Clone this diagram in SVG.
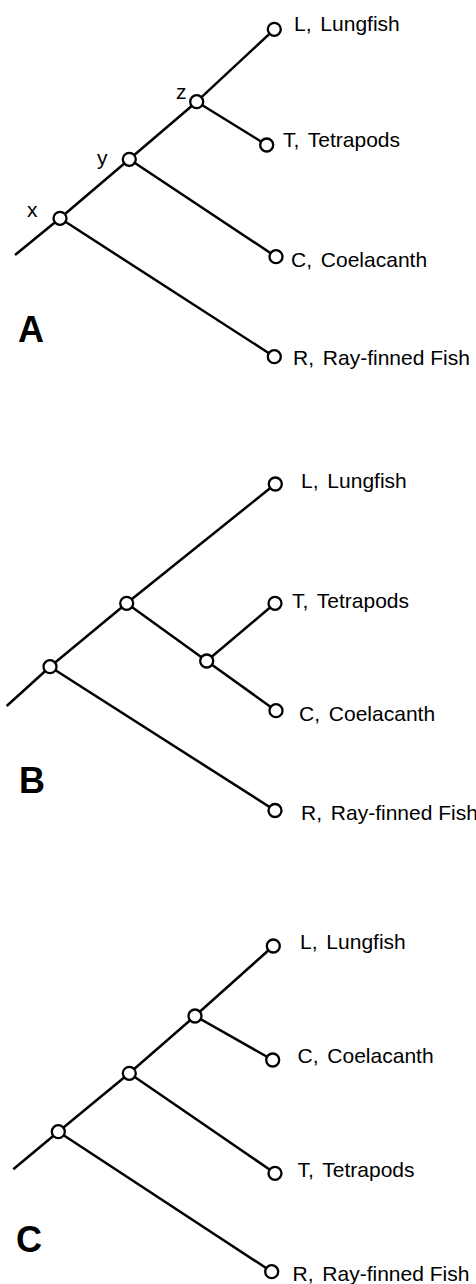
<svg xmlns="http://www.w3.org/2000/svg" width="476" height="1284" viewBox="0 0 476 1284">
<style>
.edge{stroke:#000;stroke-width:2.5;fill:none}
.node{fill:#fff;stroke:#000;stroke-width:2.3}
.lbl{font-family:"Liberation Sans",Arial,Helvetica,sans-serif;font-size:21px;fill:#000}
.panel{font-family:"Liberation Sans",Arial,Helvetica,sans-serif;font-size:36px;font-weight:bold;fill:#000}
</style>
<rect width="476" height="1284" fill="#fff"/>
<g id="connectors">
  <!-- Panel A -->
  <line class="edge" x1="15" y1="255" x2="60" y2="218.3"/>
  <line class="edge" x1="60" y1="218.3" x2="129.3" y2="159.3"/>
  <line class="edge" x1="129.3" y1="159.3" x2="196.7" y2="101.7"/>
  <line class="edge" x1="196.7" y1="101.7" x2="274.3" y2="29.3"/>
  <line class="edge" x1="196.7" y1="101.7" x2="266.7" y2="145"/>
  <line class="edge" x1="129.3" y1="159.3" x2="276" y2="256.7"/>
  <line class="edge" x1="60" y1="218.3" x2="274.3" y2="356.7"/>
  <!-- Panel B -->
  <line class="edge" x1="6.7" y1="706" x2="50" y2="666.7"/>
  <line class="edge" x1="50" y1="666.7" x2="126.7" y2="603.3"/>
  <line class="edge" x1="126.7" y1="603.3" x2="275.3" y2="484"/>
  <line class="edge" x1="126.7" y1="603.3" x2="206.7" y2="661"/>
  <line class="edge" x1="206.7" y1="661" x2="275" y2="603.3"/>
  <line class="edge" x1="206.7" y1="661" x2="276" y2="710.7"/>
  <line class="edge" x1="50" y1="666.7" x2="275" y2="810.5"/>
  <!-- Panel C -->
  <line class="edge" x1="13.3" y1="1169.3" x2="58.3" y2="1131.7"/>
  <line class="edge" x1="58.3" y1="1131.7" x2="129.3" y2="1073.3"/>
  <line class="edge" x1="129.3" y1="1073.3" x2="195" y2="1016"/>
  <line class="edge" x1="195" y1="1016" x2="273.3" y2="946"/>
  <line class="edge" x1="195" y1="1016" x2="272.7" y2="1060"/>
  <line class="edge" x1="129.3" y1="1073.3" x2="275" y2="1173.3"/>
  <line class="edge" x1="58.3" y1="1131.7" x2="271.7" y2="1271.7"/>
</g>
<!-- Panel A nodes -->
<g id="A-x"><circle class="node" cx="60" cy="218.3" r="6.5"/><text class="lbl" x="27" y="217">x</text></g>
<g id="A-y"><circle class="node" cx="129.3" cy="159.3" r="6.5"/><text class="lbl" x="97" y="165">y</text></g>
<g id="A-z"><circle class="node" cx="196.7" cy="101.7" r="6.5"/><text class="lbl" x="176" y="99">z</text></g>
<g id="A-L"><circle class="node" cx="274.3" cy="29.3" r="6.5"/><text class="lbl" x="294" y="31">L, <tspan dx="3">Lungfish</tspan></text></g>
<g id="A-T"><circle class="node" cx="266.7" cy="145" r="6.5"/><text class="lbl" x="283" y="147">T, <tspan dx="3">Tetrapods</tspan></text></g>
<g id="A-C"><circle class="node" cx="276" cy="256.7" r="6.5"/><text class="lbl" x="291" y="266.5">C, <tspan dx="3">Coelacanth</tspan></text></g>
<g id="A-R"><circle class="node" cx="274.3" cy="356.7" r="6.5"/><text class="lbl" x="293" y="365">R, <tspan dx="3">Ray-finned Fish</tspan></text></g>
<text class="panel" x="18" y="342">A</text>
<!-- Panel B nodes -->
<g id="B-root"><circle class="node" cx="50" cy="666.7" r="6.5"/></g>
<g id="B-upper"><circle class="node" cx="126.7" cy="603.3" r="6.5"/></g>
<g id="B-lower"><circle class="node" cx="206.7" cy="661" r="6.5"/></g>
<g id="B-L"><circle class="node" cx="275.3" cy="484" r="6.5"/><text class="lbl" x="301" y="487.5">L, <tspan dx="3">Lungfish</tspan></text></g>
<g id="B-T"><circle class="node" cx="275" cy="603.3" r="6.5"/><text class="lbl" x="292" y="608.3">T, <tspan dx="3">Tetrapods</tspan></text></g>
<g id="B-C"><circle class="node" cx="276" cy="710.7" r="6.5"/><text class="lbl" x="299" y="720.5">C, <tspan dx="3">Coelacanth</tspan></text></g>
<g id="B-R"><circle class="node" cx="275" cy="810.5" r="6.5"/><text class="lbl" x="301" y="820">R, <tspan dx="3">Ray-finned Fish</tspan></text></g>
<text class="panel" x="19" y="793">B</text>
<!-- Panel C nodes -->
<g id="C-root"><circle class="node" cx="58.3" cy="1131.7" r="6.5"/></g>
<g id="C-mid"><circle class="node" cx="129.3" cy="1073.3" r="6.5"/></g>
<g id="C-upper"><circle class="node" cx="195" cy="1016" r="6.5"/></g>
<g id="C-L"><circle class="node" cx="273.3" cy="946" r="6.5"/><text class="lbl" x="300" y="949">L, <tspan dx="3">Lungfish</tspan></text></g>
<g id="C-C"><circle class="node" cx="272.7" cy="1060" r="6.5"/><text class="lbl" x="297.5" y="1062.7">C, <tspan dx="3">Coelacanth</tspan></text></g>
<g id="C-T"><circle class="node" cx="275" cy="1173.3" r="6.5"/><text class="lbl" x="297.5" y="1177.3">T, <tspan dx="3">Tetrapods</tspan></text></g>
<g id="C-R"><circle class="node" cx="271.7" cy="1271.7" r="6.5"/><text class="lbl" x="292.5" y="1280.5">R, <tspan dx="3">Ray-finned Fish</tspan></text></g>
<text class="panel" x="16" y="1252">C</text>
</svg>
